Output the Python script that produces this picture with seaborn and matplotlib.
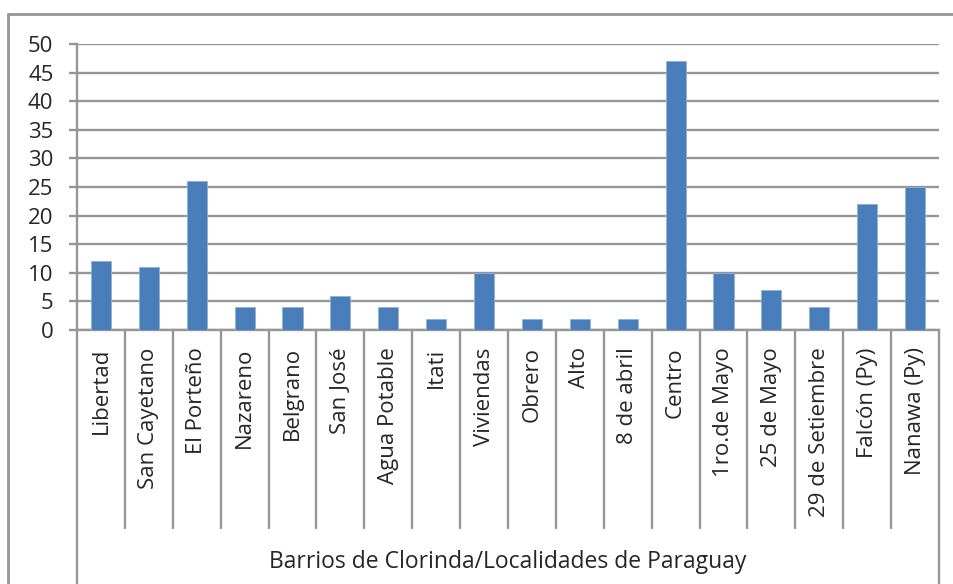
import matplotlib.pyplot as plt
import seaborn as sns
import pandas as pd
from matplotlib.transforms import blended_transform_factory
from matplotlib.lines import Line2D

barrios = ['Libertad', 'San Cayetano', 'El Porteño', 'Nazareno', 'Belgrano', 'San José',
           'Agua Potable', 'Itati', 'Viviendas', 'Obrero', 'Alto', '8 de abril', 'Centro',
           '1ro.de Mayo', '25 de Mayo', '29 de Setiembre', 'Falcón (Py)', 'Nanawa (Py)']
cantidad = [12, 11, 26, 4, 4, 6, 4, 2, 10, 2, 2, 2, 47, 10, 7, 4, 22, 25]
y_ticks = [0, 5, 10, 15, 20, 25, 30, 35, 40, 45, 50]
x_titulo = 'Barrios de Clorinda/Localidades de Paraguay'

df = pd.DataFrame({'barrio': barrios, 'n': cantidad})

sns.set_style('white')
plt.rcParams['font.family'] = ['Open Sans', 'DejaVu Sans']

W, H = 954, 584
fig = plt.figure(figsize=(W / 100, H / 100), dpi=100)
gris = '#969696'

# marco exterior del grafico (borde izq y superior visibles)
fig.add_artist(Line2D([8 / W, 8 / W], [0, 1 - 14 / H], transform=fig.transFigure, color=gris, lw=2))
fig.add_artist(Line2D([8 / W, 1], [1 - 14 / H, 1 - 14 / H], transform=fig.transFigure, color=gris, lw=2))

ax = fig.add_axes([77 / W, 1 - 330 / H, (939 - 77) / W, (330 - 44) / H])
sns.barplot(data=df, x='barrio', y='n', color='#4a7ebb', width=0.42, saturation=1,
            edgecolor='#8fb0d9', linewidth=0.6, ax=ax, zorder=3)

ax.set_ylim(0, 50)
ax.set_xlim(-0.5, len(barrios) - 0.5)
ax.set_yticks(y_ticks)
ax.yaxis.grid(True, color=gris, lw=1.7, zorder=0)
ax.set_axisbelow(True)
for s in ['top', 'right']:
    ax.spines[s].set_visible(False)
ax.spines['left'].set_color(gris)
ax.spines['bottom'].set_color(gris)
ax.spines['left'].set_linewidth(1.7)
ax.spines['bottom'].set_linewidth(1.7)

ax.tick_params(axis='y', left=True, length=6, width=1.7, color=gris, pad=11, labelsize=16)
ax.tick_params(axis='x', bottom=False, pad=9, labelsize=16)
plt.setp(ax.get_xticklabels(), rotation=90, ha='center', va='top')
ax.set_xlabel('')
ax.set_ylabel('')

# separadores de categorias debajo del eje
trans = blended_transform_factory(ax.transData, fig.transFigure)
y0 = 1 - 330 / H
for i in range(len(barrios)):
    x = i + 0.5
    y1 = 0 if i == len(barrios) - 1 else 1 - 528 / H
    ax.add_line(Line2D([x, x], [y0, y1], transform=trans, color=gris, lw=1.7, clip_on=False))
ax.add_line(Line2D([-0.5, -0.5], [y0, 0], transform=trans, color=gris, lw=1.7, clip_on=False))

fig.text(508 / W, 1 - 562 / H, x_titulo, ha='center', va='center', fontsize=16.5)

fig.savefig('out.png', dpi=100)
